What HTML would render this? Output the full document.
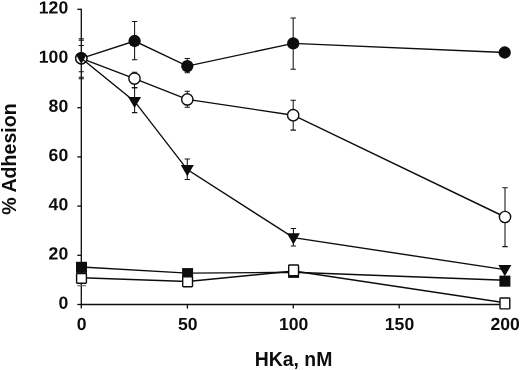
<!DOCTYPE html>
<html><head><meta charset="utf-8"><title>HKa adhesion</title>
<style>
html,body{margin:0;padding:0;background:#fff;}
body{width:520px;height:370px;overflow:hidden;}
svg{display:block;}
text{font-family:"Liberation Sans",Arial,sans-serif;font-weight:bold;fill:#0d0d0d;}
</style></head><body>
<svg width="520" height="370" viewBox="0 0 520 370">
<rect width="520" height="370" fill="#fff"/>
<defs><clipPath id="c0"><circle cx="81.3" cy="58.3" r="6.1"/></clipPath></defs>

<g stroke="#0d0d0d" stroke-width="1.3" fill="none">
<path d="M81.3 8.7V304.5H505.5"/>
<path d="M77.3 304.5H81.3"/>
<path d="M77.3 255.3H81.3"/>
<path d="M77.3 206.1H81.3"/>
<path d="M77.3 156.9H81.3"/>
<path d="M77.3 107.7H81.3"/>
<path d="M77.3 58.5H81.3"/>
<path d="M77.3 9.3H81.3"/>
<path d="M81.3 304.5V308.6"/>
<path d="M187.4 304.5V308.6"/>
<path d="M293.3 304.5V308.6"/>
<path d="M399.2 304.5V308.6"/>
<path d="M504.9 304.5V308.6"/>
</g>
<text x="68.2" y="308.7" transform="rotate(0.05 68.2 308.7)" font-size="17.6" text-anchor="end">0</text>
<text x="68.2" y="259.5" transform="rotate(0.05 68.2 259.5)" font-size="17.6" text-anchor="end">20</text>
<text x="68.2" y="210.3" transform="rotate(0.05 68.2 210.3)" font-size="17.6" text-anchor="end">40</text>
<text x="68.2" y="161.1" transform="rotate(0.05 68.2 161.1)" font-size="17.6" text-anchor="end">60</text>
<text x="68.2" y="111.9" transform="rotate(0.05 68.2 111.9)" font-size="17.6" text-anchor="end">80</text>
<text x="68.2" y="62.7" transform="rotate(0.05 68.2 62.7)" font-size="17.6" text-anchor="end">100</text>
<text x="68.2" y="13.5" transform="rotate(0.05 68.2 13.5)" font-size="17.6" text-anchor="end">120</text>
<text x="81.6" y="330.1" transform="rotate(0.05 81.6 330.1)" font-size="17.6" text-anchor="middle">0</text>
<text x="187.7" y="330.1" transform="rotate(0.05 187.7 330.1)" font-size="17.6" text-anchor="middle">50</text>
<text x="293.6" y="330.1" transform="rotate(0.05 293.6 330.1)" font-size="17.6" text-anchor="middle">100</text>
<text x="399.5" y="330.1" transform="rotate(0.05 399.5 330.1)" font-size="17.6" text-anchor="middle">150</text>
<text x="505.2" y="330.1" transform="rotate(0.05 505.2 330.1)" font-size="17.6" text-anchor="middle">200</text>
<text x="293.6" y="365.8" font-size="19.4" text-anchor="middle">HKa, nM</text>
<text transform="translate(15.8,159) rotate(-90)" font-size="19.6" text-anchor="middle">% Adhesion</text>
<path d="M78.7 38.7h5.2M78.7 40.2h5.2M78.7 45.5h5.2M78.7 71.8h5.2M78.7 77.3h5.2M78.7 78.7h5.2" stroke="#151515" stroke-width="1.05" fill="none"/>
<path d="M77.2 285.7H86" stroke="#666" stroke-width="1.1" fill="none"/>
<path d="M134.6 41.0V21.4M131.9 21.4h5.4M134.6 41.0V59.7M131.9 59.7h5.4" stroke="#151515" stroke-width="1.05" fill="none"/>
<path d="M187.3 66.1V58.4M184.6 58.4h5.4M187.3 66.1V72.8M184.6 72.8h5.4" stroke="#151515" stroke-width="1.05" fill="none"/>
<path d="M293.2 43.4V17.9M290.5 17.9h5.4M293.2 43.4V69.3M290.5 69.3h5.4" stroke="#151515" stroke-width="1.05" fill="none"/>
<path d="M81.3 58.3 L134.6 41.0 L187.3 66.1 L293.2 43.4 L504.7 52.5" stroke="#0d0d0d" stroke-width="1.4" fill="none"/>
<circle cx="81.3" cy="58.3" r="6.15" fill="#0d0d0d"/>
<circle cx="134.6" cy="41.0" r="6.15" fill="#0d0d0d"/>
<circle cx="187.3" cy="66.1" r="6.15" fill="#0d0d0d"/>
<circle cx="293.2" cy="43.4" r="6.15" fill="#0d0d0d"/>
<circle cx="504.7" cy="52.5" r="6.15" fill="#0d0d0d"/>
<path d="M134.5 78.6V72.2M131.8 72.2h5.4M134.5 78.6V87.6M131.8 87.6h5.4" stroke="#151515" stroke-width="1.05" fill="none"/>
<path d="M187.3 99.4V91.2M184.6 91.2h5.4M187.3 99.4V107.2M184.6 107.2h5.4" stroke="#151515" stroke-width="1.05" fill="none"/>
<path d="M293.2 115.2V100.2M290.5 100.2h5.4M293.2 115.2V130.1M290.5 130.1h5.4" stroke="#151515" stroke-width="1.05" fill="none"/>
<path d="M505.0 217.0V187.8M502.3 187.8h5.4M505.0 217.0V246.6M502.3 246.6h5.4" stroke="#151515" stroke-width="1.05" fill="none"/>
<path d="M81.3 58.3 L134.5 78.6 L187.3 99.4 L293.2 115.2 L505.0 217.0" stroke="#0d0d0d" stroke-width="1.4" fill="none"/>
<circle cx="81.3" cy="58.3" r="5.65" fill="#fff" stroke="#0d0d0d" stroke-width="1.4"/>
<circle cx="134.5" cy="78.6" r="5.65" fill="#fff" stroke="#0d0d0d" stroke-width="1.4"/>
<circle cx="187.3" cy="99.4" r="5.65" fill="#fff" stroke="#0d0d0d" stroke-width="1.4"/>
<circle cx="293.2" cy="115.2" r="5.65" fill="#fff" stroke="#0d0d0d" stroke-width="1.4"/>
<circle cx="505.0" cy="217.0" r="5.65" fill="#fff" stroke="#0d0d0d" stroke-width="1.4"/>
<path d="M134.6 102.5V87.6M131.9 87.6h5.4M134.6 102.5V112.6M131.9 112.6h5.4" stroke="#151515" stroke-width="1.05" fill="none"/>
<path d="M187.3 170.7V159.0M184.6 159.0h5.4M187.3 170.7V179.5M184.6 179.5h5.4" stroke="#151515" stroke-width="1.05" fill="none"/>
<path d="M293.4 238.8V228.5M290.7 228.5h5.4M293.4 238.8V246.0M290.7 246.0h5.4" stroke="#151515" stroke-width="1.05" fill="none"/>
<path d="M81.3 58.3 L134.6 101.4 L187.3 169.6 L293.4 237.7 L504.8 269.6" stroke="#0d0d0d" stroke-width="1.4" fill="none"/>
<path d="M74.8 52.7h13l-6.5 11.2z" fill="#0d0d0d" clip-path="url(#c0)"/>
<path d="M128.1 96.9h13l-6.5 11.2z" fill="#0d0d0d"/>
<path d="M180.8 165.1h13l-6.5 11.2z" fill="#0d0d0d"/>
<path d="M286.9 233.2h13l-6.5 11.2z" fill="#0d0d0d"/>
<path d="M498.3 265.1h13l-6.5 11.2z" fill="#0d0d0d"/>
<path d="M81.5 267.0 L187.6 273.1 L293.6 272.3 L504.9 280.3" stroke="#0d0d0d" stroke-width="1.4" fill="none"/>
<rect x="76.0" y="261.8" width="11" height="11.1" fill="#0d0d0d"/>
<rect x="182.1" y="268.1" width="11" height="11.1" fill="#0d0d0d"/>
<rect x="288.1" y="266.8" width="11" height="11.1" fill="#0d0d0d"/>
<rect x="499.4" y="275.6" width="11" height="11.1" fill="#0d0d0d"/>
<path d="M81.5 277.8 L187.6 281.5 L293.6 271.0 L504.9 302.7" stroke="#0d0d0d" stroke-width="1.4" fill="none"/>
<rect x="76.6" y="273.50" width="9.8" height="9.8" rx="0.7" fill="#fff" stroke="#0d0d0d" stroke-width="1.4"/>
<rect x="182.7" y="276.70" width="9.8" height="10.0" rx="0.7" fill="#fff" stroke="#0d0d0d" stroke-width="1.4"/>
<rect x="288.7" y="265.00" width="9.8" height="10.8" rx="0.7" fill="#fff" stroke="#0d0d0d" stroke-width="1.4"/>
<rect x="500.0" y="297.95" width="9.8" height="10.9" rx="0.7" fill="#fff" stroke="#0d0d0d" stroke-width="1.4"/>
</svg></body></html>
